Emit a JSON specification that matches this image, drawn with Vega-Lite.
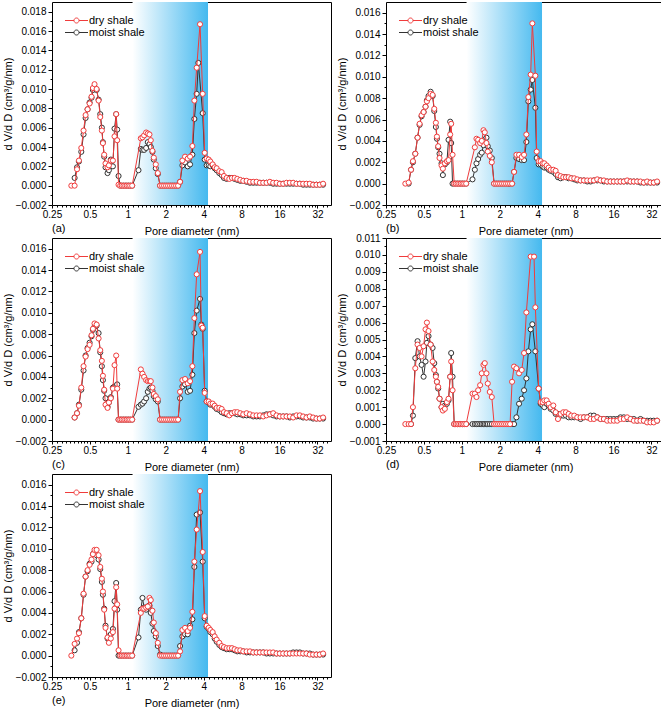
{
"$schema":"https://vega.github.io/schema/vega-lite/v6.json",
"padding":{"left":1,"top":1,"right":0,"bottom":0},
"background":"white",
"config":{"font":"Liberation Sans","view":{"stroke":"black","strokeWidth":1},"axis":{"domain":false,"grid":false,"tickColor":"black","labelColor":"black","titleColor":"black","labelFont":"Liberation Sans","titleFont":"Liberation Sans","labelFontSize":10,"titleFontSize":11,"titleFontWeight":"normal"},"legend":{"labelFont":"Liberation Sans","labelColor":"black"},"title":{"font":"Liberation Sans","fontSize":11,"fontWeight":"normal","color":"black"}},
"datasets":{
"a_dry":[{"d":0.356,"v":0},{"d":0.378,"v":0},{"d":0.395,"v":0.0017},{"d":0.409,"v":0.0026},{"d":0.427,"v":0.0039},{"d":0.445,"v":0.0057},{"d":0.462,"v":0.0073},{"d":0.479,"v":0.0079},{"d":0.497,"v":0.0085},{"d":0.515,"v":0.0092},{"d":0.528,"v":0.0101},{"d":0.544,"v":0.0105},{"d":0.565,"v":0.01},{"d":0.586,"v":0.0088},{"d":0.604,"v":0.0071},{"d":0.622,"v":0.0057},{"d":0.634,"v":0.0044},{"d":0.649,"v":0.0032},{"d":0.665,"v":0.0023},{"d":0.69,"v":0.0019},{"d":0.707,"v":0.0021},{"d":0.733,"v":0.0026},{"d":0.761,"v":0.0026},{"d":0.784,"v":0.0051},{"d":0.808,"v":0.0074},{"d":0.823,"v":0.0047},{"d":0.844,"v":0.0001},{"d":0.87,"v":0},{"d":0.896,"v":0},{"d":0.924,"v":0},{"d":0.953,"v":0},{"d":0.982,"v":0},{"d":1.012,"v":0},{"d":1.044,"v":0},{"d":1.082,"v":0},{"d":1.268,"v":0.0049},{"d":1.307,"v":0.005},{"d":1.347,"v":0.0052},{"d":1.397,"v":0.0055},{"d":1.44,"v":0.0054},{"d":1.485,"v":0.0053},{"d":1.521,"v":0.0047},{"d":1.568,"v":0.0036},{"d":1.607,"v":0.0029},{"d":1.667,"v":0.0022},{"d":1.729,"v":0.0013},{"d":1.804,"v":0},{"d":1.871,"v":0},{"d":1.94,"v":0},{"d":2.012,"v":0},{"d":2.087,"v":0},{"d":2.165,"v":0},{"d":2.245,"v":0},{"d":2.329,"v":0},{"d":2.415,"v":0},{"d":2.505,"v":0},{"d":2.598,"v":0.0004},{"d":2.711,"v":0.0026},{"d":2.846,"v":0.003},{"d":2.988,"v":0.0028},{"d":3.118,"v":0.003},{"d":3.253,"v":0.0041},{"d":3.374,"v":0.0088},{"d":3.52,"v":0.0122},{"d":3.742,"v":0.0167},{"d":3.928,"v":0.0095},{"d":4.074,"v":0.0034},{"d":4.225,"v":0.0028},{"d":4.382,"v":0.0027},{"d":4.517,"v":0.0025},{"d":4.713,"v":0.0022},{"d":4.889,"v":0.0019},{"d":5.071,"v":0.0018},{"d":5.323,"v":0.0015},{"d":5.555,"v":0.0014},{"d":5.796,"v":0.001},{"d":6.085,"v":0.0008},{"d":6.388,"v":0.0007},{"d":6.707,"v":0.0008},{"d":7.041,"v":0.0008},{"d":7.393,"v":0.0007},{"d":7.807,"v":0.0006},{"d":8.245,"v":0.0005},{"d":8.765,"v":0.0005},{"d":9.315,"v":0.0004},{"d":9.898,"v":0.0004},{"d":10.52,"v":0.0004},{"d":11.18,"v":0.0003},{"d":11.88,"v":0.0003},{"d":12.62,"v":0.0003},{"d":13.41,"v":0.0004},{"d":14.25,"v":0.0003},{"d":15.15,"v":0.0003},{"d":16.1,"v":0.0002},{"d":17.11,"v":0.0002},{"d":18.18,"v":0.0003},{"d":19.32,"v":0.0003},{"d":20.53,"v":0.0003},{"d":21.82,"v":0.0002},{"d":23.19,"v":0.0002},{"d":24.64,"v":0.0002},{"d":26.18,"v":0.0002},{"d":27.82,"v":0.0002},{"d":29.57,"v":0.0001},{"d":31.42,"v":0.0001},{"d":33.39,"v":0.0001},{"d":35.48,"v":0.0002}],
"a_moist":[{"d":0.378,"v":0.0008},{"d":0.395,"v":0.0019},{"d":0.409,"v":0.0025},{"d":0.427,"v":0.0035},{"d":0.445,"v":0.0053},{"d":0.462,"v":0.007},{"d":0.479,"v":0.0079},{"d":0.497,"v":0.0086},{"d":0.515,"v":0.0091},{"d":0.528,"v":0.0099},{"d":0.544,"v":0.0102},{"d":0.565,"v":0.0099},{"d":0.586,"v":0.0089},{"d":0.604,"v":0.0074},{"d":0.622,"v":0.006},{"d":0.634,"v":0.0045},{"d":0.649,"v":0.003},{"d":0.665,"v":0.0019},{"d":0.69,"v":0.0013},{"d":0.707,"v":0.0016},{"d":0.733,"v":0.0027},{"d":0.761,"v":0.002},{"d":0.784,"v":0.0059},{"d":0.808,"v":0.0074},{"d":0.823,"v":0.0058},{"d":0.844,"v":0.001},{"d":0.87,"v":0},{"d":0.896,"v":0},{"d":0.924,"v":0},{"d":0.953,"v":0},{"d":0.982,"v":0},{"d":1.012,"v":0},{"d":1.044,"v":0},{"d":1.082,"v":0},{"d":1.215,"v":0.0016},{"d":1.268,"v":0.0038},{"d":1.307,"v":0.0037},{"d":1.347,"v":0.0037},{"d":1.397,"v":0.0039},{"d":1.44,"v":0.0045},{"d":1.485,"v":0.0043},{"d":1.521,"v":0.004},{"d":1.568,"v":0.0035},{"d":1.607,"v":0.0027},{"d":1.667,"v":0.0018},{"d":1.729,"v":0.0012},{"d":1.804,"v":0},{"d":1.871,"v":0},{"d":1.94,"v":0},{"d":2.012,"v":0},{"d":2.087,"v":0},{"d":2.165,"v":0},{"d":2.245,"v":0},{"d":2.329,"v":0},{"d":2.415,"v":0},{"d":2.505,"v":0},{"d":2.598,"v":0.0004},{"d":2.711,"v":0.0021},{"d":2.846,"v":0.0024},{"d":2.988,"v":0.002},{"d":3.118,"v":0.0022},{"d":3.253,"v":0.0032},{"d":3.374,"v":0.0069},{"d":3.52,"v":0.0095},{"d":3.629,"v":0.0127},{"d":3.928,"v":0.0075},{"d":4.074,"v":0.0027},{"d":4.225,"v":0.0021},{"d":4.382,"v":0.0021},{"d":4.517,"v":0.002},{"d":4.713,"v":0.0021},{"d":4.889,"v":0.0018},{"d":5.071,"v":0.0016},{"d":5.323,"v":0.0013},{"d":5.555,"v":0.0011},{"d":5.796,"v":0.0008},{"d":6.085,"v":0.0007},{"d":6.388,"v":0.0008},{"d":6.707,"v":0.0008},{"d":7.041,"v":0.0007},{"d":7.393,"v":0.0006},{"d":7.807,"v":0.0005},{"d":8.245,"v":0.0005},{"d":8.765,"v":0.0004},{"d":9.315,"v":0.0003},{"d":9.898,"v":0.0003},{"d":10.52,"v":0.0003},{"d":11.18,"v":0.0003},{"d":11.88,"v":0.0003},{"d":12.62,"v":0.0003},{"d":13.41,"v":0.0003},{"d":14.25,"v":0.0002},{"d":15.15,"v":0.0002},{"d":16.1,"v":0.0002},{"d":17.11,"v":0.0002},{"d":18.18,"v":0.0002},{"d":19.32,"v":0.0002},{"d":20.53,"v":0.0002},{"d":21.82,"v":0.0002},{"d":23.19,"v":0.0002},{"d":24.64,"v":0.0001},{"d":26.18,"v":0.0001},{"d":27.82,"v":0.0001},{"d":29.57,"v":0.0001},{"d":31.42,"v":0.0001},{"d":33.39,"v":0.0001},{"d":35.48,"v":0.0001}],
"b_dry":[{"d":0.356,"v":0},{"d":0.378,"v":0.0001},{"d":0.395,"v":0.0013},{"d":0.409,"v":0.0021},{"d":0.427,"v":0.0028},{"d":0.445,"v":0.0043},{"d":0.462,"v":0.0056},{"d":0.479,"v":0.0064},{"d":0.497,"v":0.0067},{"d":0.515,"v":0.0072},{"d":0.528,"v":0.0077},{"d":0.544,"v":0.008},{"d":0.565,"v":0.0084},{"d":0.586,"v":0.0083},{"d":0.604,"v":0.007},{"d":0.622,"v":0.0057},{"d":0.634,"v":0.0044},{"d":0.649,"v":0.0035},{"d":0.665,"v":0.0024},{"d":0.69,"v":0.0017},{"d":0.707,"v":0.0014},{"d":0.733,"v":0.0019},{"d":0.761,"v":0.0021},{"d":0.784,"v":0.0022},{"d":0.808,"v":0.0046},{"d":0.823,"v":0.0056},{"d":0.844,"v":0.0027},{"d":0.87,"v":0},{"d":0.896,"v":0},{"d":0.924,"v":0},{"d":0.953,"v":0},{"d":0.982,"v":0},{"d":1.012,"v":0},{"d":1.044,"v":0},{"d":1.082,"v":0},{"d":1.268,"v":0.0034},{"d":1.307,"v":0.0042},{"d":1.347,"v":0.0041},{"d":1.397,"v":0.0038},{"d":1.44,"v":0.004},{"d":1.485,"v":0.005},{"d":1.521,"v":0.0048},{"d":1.568,"v":0.0038},{"d":1.607,"v":0.003},{"d":1.667,"v":0.0026},{"d":1.729,"v":0.002},{"d":1.804,"v":0},{"d":1.871,"v":0},{"d":1.94,"v":0},{"d":2.012,"v":0},{"d":2.087,"v":0},{"d":2.165,"v":0},{"d":2.245,"v":0},{"d":2.329,"v":0},{"d":2.415,"v":0},{"d":2.505,"v":0},{"d":2.598,"v":0.0011},{"d":2.711,"v":0.0027},{"d":2.846,"v":0.0027},{"d":2.988,"v":0.0025},{"d":3.118,"v":0.0027},{"d":3.253,"v":0.0046},{"d":3.374,"v":0.0081},{"d":3.52,"v":0.0102},{"d":3.629,"v":0.015},{"d":3.834,"v":0.0101},{"d":3.928,"v":0.003},{"d":4.074,"v":0.0021},{"d":4.225,"v":0.0021},{"d":4.382,"v":0.0019},{"d":4.517,"v":0.0019},{"d":4.713,"v":0.0017},{"d":4.889,"v":0.0015},{"d":5.071,"v":0.0013},{"d":5.323,"v":0.0013},{"d":5.555,"v":0.0012},{"d":5.796,"v":0.0008},{"d":6.085,"v":0.0007},{"d":6.388,"v":0.0006},{"d":6.707,"v":0.0006},{"d":7.041,"v":0.0006},{"d":7.393,"v":0.0005},{"d":7.807,"v":0.0005},{"d":8.245,"v":0.0004},{"d":8.765,"v":0.0003},{"d":9.315,"v":0.0003},{"d":9.898,"v":0.0003},{"d":10.52,"v":0.0003},{"d":11.18,"v":0.0003},{"d":11.88,"v":0.0004},{"d":12.62,"v":0.0003},{"d":13.41,"v":0.0003},{"d":14.25,"v":0.0002},{"d":15.15,"v":0.0002},{"d":16.1,"v":0.0002},{"d":17.11,"v":0.0002},{"d":18.18,"v":0.0002},{"d":19.32,"v":0.0002},{"d":20.53,"v":0.0003},{"d":21.82,"v":0.0002},{"d":23.19,"v":0.0002},{"d":24.64,"v":0.0002},{"d":26.18,"v":0.0002},{"d":27.82,"v":0.0001},{"d":29.57,"v":0.0002},{"d":31.42,"v":0.0001},{"d":33.39,"v":0.0001},{"d":35.48,"v":0.0002}],
"b_moist":[{"d":0.378,"v":0},{"d":0.395,"v":0.0013},{"d":0.409,"v":0.002},{"d":0.427,"v":0.0028},{"d":0.445,"v":0.0043},{"d":0.462,"v":0.0055},{"d":0.479,"v":0.0063},{"d":0.497,"v":0.0067},{"d":0.515,"v":0.0072},{"d":0.528,"v":0.0078},{"d":0.544,"v":0.0082},{"d":0.565,"v":0.0086},{"d":0.586,"v":0.0082},{"d":0.604,"v":0.0068},{"d":0.622,"v":0.0053},{"d":0.634,"v":0.0042},{"d":0.649,"v":0.0034},{"d":0.665,"v":0.0028},{"d":0.69,"v":0.0019},{"d":0.707,"v":0.0008},{"d":0.733,"v":0.0018},{"d":0.761,"v":0.002},{"d":0.784,"v":0.0041},{"d":0.808,"v":0.0058},{"d":0.823,"v":0.0038},{"d":0.844,"v":0},{"d":0.87,"v":0},{"d":0.896,"v":0},{"d":0.924,"v":0},{"d":0.953,"v":0},{"d":0.982,"v":0},{"d":1.012,"v":0},{"d":1.044,"v":0},{"d":1.082,"v":0},{"d":1.215,"v":0.0004},{"d":1.268,"v":0.0013},{"d":1.307,"v":0.0019},{"d":1.347,"v":0.0023},{"d":1.397,"v":0.0027},{"d":1.44,"v":0.0029},{"d":1.485,"v":0.0036},{"d":1.521,"v":0.0041},{"d":1.568,"v":0.0043},{"d":1.607,"v":0.0035},{"d":1.667,"v":0.0031},{"d":1.729,"v":0.0024},{"d":1.804,"v":0},{"d":1.871,"v":0},{"d":1.94,"v":0},{"d":2.012,"v":0},{"d":2.087,"v":0},{"d":2.165,"v":0},{"d":2.245,"v":0},{"d":2.329,"v":0},{"d":2.415,"v":0},{"d":2.505,"v":0},{"d":2.598,"v":0.0011},{"d":2.711,"v":0.0024},{"d":2.846,"v":0.0023},{"d":2.988,"v":0.0022},{"d":3.118,"v":0.0022},{"d":3.253,"v":0.0039},{"d":3.374,"v":0.0077},{"d":3.52,"v":0.0088},{"d":3.629,"v":0.0097},{"d":3.834,"v":0.0071},{"d":3.928,"v":0.0024},{"d":4.074,"v":0.0018},{"d":4.225,"v":0.0018},{"d":4.382,"v":0.0016},{"d":4.517,"v":0.0015},{"d":4.713,"v":0.0015},{"d":4.889,"v":0.0013},{"d":5.071,"v":0.0012},{"d":5.323,"v":0.0011},{"d":5.555,"v":0.0009},{"d":5.796,"v":0.0006},{"d":6.085,"v":0.0005},{"d":6.388,"v":0.0006},{"d":6.707,"v":0.0006},{"d":7.041,"v":0.0005},{"d":7.393,"v":0.0005},{"d":7.807,"v":0.0004},{"d":8.245,"v":0.0003},{"d":8.765,"v":0.0003},{"d":9.315,"v":0.0003},{"d":9.898,"v":0.0002},{"d":10.52,"v":0.0002},{"d":11.18,"v":0.0003},{"d":11.88,"v":0.0003},{"d":12.62,"v":0.0003},{"d":13.41,"v":0.0002},{"d":14.25,"v":0.0002},{"d":15.15,"v":0.0002},{"d":16.1,"v":0.0002},{"d":17.11,"v":0.0002},{"d":18.18,"v":0.0002},{"d":19.32,"v":0.0002},{"d":20.53,"v":0.0002},{"d":21.82,"v":0.0002},{"d":23.19,"v":0.0002},{"d":24.64,"v":0.0002},{"d":26.18,"v":0.0001},{"d":27.82,"v":0.0001},{"d":29.57,"v":0.0001},{"d":31.42,"v":0.0001},{"d":33.39,"v":0.0001},{"d":35.48,"v":0.0001}],
"c_dry":[{"d":0.378,"v":0.0002},{"d":0.395,"v":0.0006},{"d":0.409,"v":0.0013},{"d":0.427,"v":0.003},{"d":0.445,"v":0.005},{"d":0.462,"v":0.0059},{"d":0.479,"v":0.0066},{"d":0.497,"v":0.007},{"d":0.515,"v":0.0079},{"d":0.528,"v":0.0085},{"d":0.544,"v":0.009},{"d":0.565,"v":0.0089},{"d":0.586,"v":0.0076},{"d":0.604,"v":0.0065},{"d":0.622,"v":0.0055},{"d":0.634,"v":0.0041},{"d":0.649,"v":0.0028},{"d":0.665,"v":0.0014},{"d":0.69,"v":0.0011},{"d":0.707,"v":0.0016},{"d":0.733,"v":0.002},{"d":0.761,"v":0.0029},{"d":0.784,"v":0.0051},{"d":0.808,"v":0.006},{"d":0.823,"v":0.0029},{"d":0.844,"v":0},{"d":0.87,"v":0},{"d":0.896,"v":0},{"d":0.924,"v":0},{"d":0.953,"v":0},{"d":0.982,"v":0},{"d":1.012,"v":0},{"d":1.044,"v":0},{"d":1.082,"v":0},{"d":1.268,"v":0.0047},{"d":1.307,"v":0.0043},{"d":1.347,"v":0.004},{"d":1.397,"v":0.0037},{"d":1.44,"v":0.0036},{"d":1.485,"v":0.0036},{"d":1.521,"v":0.0036},{"d":1.568,"v":0.003},{"d":1.607,"v":0.0024},{"d":1.667,"v":0.0022},{"d":1.729,"v":0.0019},{"d":1.804,"v":0},{"d":1.871,"v":0},{"d":1.94,"v":0},{"d":2.012,"v":0},{"d":2.087,"v":0},{"d":2.165,"v":0},{"d":2.245,"v":0},{"d":2.329,"v":0},{"d":2.415,"v":0},{"d":2.505,"v":0},{"d":2.598,"v":0.0026},{"d":2.711,"v":0.0037},{"d":2.846,"v":0.0038},{"d":2.988,"v":0.0034},{"d":3.118,"v":0.0036},{"d":3.253,"v":0.005},{"d":3.374,"v":0.0095},{"d":3.52,"v":0.0136},{"d":3.742,"v":0.0157},{"d":3.834,"v":0.0088},{"d":3.928,"v":0.0086},{"d":4.074,"v":0.0025},{"d":4.225,"v":0.0017},{"d":4.382,"v":0.0017},{"d":4.517,"v":0.0015},{"d":4.713,"v":0.0015},{"d":4.889,"v":0.0013},{"d":5.071,"v":0.0011},{"d":5.323,"v":0.0011},{"d":5.555,"v":0.001},{"d":5.796,"v":0.0007},{"d":6.085,"v":0.0006},{"d":6.388,"v":0.0004},{"d":6.707,"v":0.0006},{"d":7.041,"v":0.0007},{"d":7.393,"v":0.0007},{"d":7.807,"v":0.0006},{"d":8.245,"v":0.0005},{"d":8.765,"v":0.0006},{"d":9.315,"v":0.0005},{"d":9.898,"v":0.0004},{"d":10.52,"v":0.0004},{"d":11.18,"v":0.0004},{"d":11.88,"v":0.0003},{"d":12.62,"v":0.0004},{"d":13.41,"v":0.0005},{"d":14.25,"v":0.0006},{"d":15.15,"v":0.0004},{"d":16.1,"v":0.0003},{"d":17.11,"v":0.0003},{"d":18.18,"v":0.0003},{"d":19.32,"v":0.0003},{"d":20.53,"v":0.0002},{"d":21.82,"v":0.0004},{"d":23.19,"v":0.0004},{"d":24.64,"v":0.0003},{"d":26.18,"v":0.0002},{"d":27.82,"v":0.0003},{"d":29.57,"v":0.0002},{"d":31.42,"v":0.0001},{"d":33.39,"v":0.0001},{"d":35.48,"v":0.0002}],
"c_moist":[{"d":0.378,"v":0.0002},{"d":0.395,"v":0.0006},{"d":0.409,"v":0.0014},{"d":0.427,"v":0.0028},{"d":0.445,"v":0.0046},{"d":0.462,"v":0.006},{"d":0.479,"v":0.0067},{"d":0.497,"v":0.0072},{"d":0.515,"v":0.0078},{"d":0.528,"v":0.0084},{"d":0.544,"v":0.0087},{"d":0.565,"v":0.0088},{"d":0.586,"v":0.0081},{"d":0.604,"v":0.0063},{"d":0.622,"v":0.005},{"d":0.634,"v":0.0037},{"d":0.649,"v":0.0027},{"d":0.665,"v":0.002},{"d":0.69,"v":0.0012},{"d":0.707,"v":0.0016},{"d":0.733,"v":0.0021},{"d":0.761,"v":0.003},{"d":0.784,"v":0.0031},{"d":0.808,"v":0.0031},{"d":0.823,"v":0.0033},{"d":0.844,"v":0},{"d":0.87,"v":0},{"d":0.896,"v":0},{"d":0.924,"v":0},{"d":0.953,"v":0},{"d":0.982,"v":0},{"d":1.012,"v":0},{"d":1.044,"v":0},{"d":1.082,"v":0},{"d":1.215,"v":0.0012},{"d":1.268,"v":0.0014},{"d":1.307,"v":0.0015},{"d":1.347,"v":0.0017},{"d":1.397,"v":0.002},{"d":1.44,"v":0.0026},{"d":1.485,"v":0.0029},{"d":1.521,"v":0.003},{"d":1.568,"v":0.0027},{"d":1.607,"v":0.0022},{"d":1.667,"v":0.0019},{"d":1.729,"v":0.0017},{"d":1.804,"v":0},{"d":1.871,"v":0},{"d":1.94,"v":0},{"d":2.012,"v":0},{"d":2.087,"v":0},{"d":2.165,"v":0},{"d":2.245,"v":0},{"d":2.329,"v":0},{"d":2.415,"v":0},{"d":2.505,"v":0},{"d":2.598,"v":0.002},{"d":2.711,"v":0.0031},{"d":2.846,"v":0.0033},{"d":2.988,"v":0.0026},{"d":3.118,"v":0.0027},{"d":3.253,"v":0.0042},{"d":3.374,"v":0.0081},{"d":3.52,"v":0.0102},{"d":3.742,"v":0.0113},{"d":3.834,"v":0.0089},{"d":3.928,"v":0.0085},{"d":4.074,"v":0.0027},{"d":4.225,"v":0.0017},{"d":4.382,"v":0.0016},{"d":4.517,"v":0.0014},{"d":4.713,"v":0.0014},{"d":4.889,"v":0.0012},{"d":5.071,"v":0.001},{"d":5.323,"v":0.0009},{"d":5.555,"v":0.0007},{"d":5.796,"v":0.0006},{"d":6.085,"v":0.0005},{"d":6.388,"v":0.0006},{"d":6.707,"v":0.0006},{"d":7.041,"v":0.0006},{"d":7.393,"v":0.0005},{"d":7.807,"v":0.0005},{"d":8.245,"v":0.0004},{"d":8.765,"v":0.0004},{"d":9.315,"v":0.0004},{"d":9.898,"v":0.0003},{"d":10.52,"v":0.0003},{"d":11.18,"v":0.0003},{"d":11.88,"v":0.0004},{"d":12.62,"v":0.0005},{"d":13.41,"v":0.0005},{"d":14.25,"v":0.0004},{"d":15.15,"v":0.0003},{"d":16.1,"v":0.0003},{"d":17.11,"v":0.0003},{"d":18.18,"v":0.0003},{"d":19.32,"v":0.0002},{"d":20.53,"v":0.0003},{"d":21.82,"v":0.0003},{"d":23.19,"v":0.0003},{"d":24.64,"v":0.0002},{"d":26.18,"v":0.0002},{"d":27.82,"v":0.0002},{"d":29.57,"v":0.0001},{"d":31.42,"v":0.0001},{"d":33.39,"v":0.0001},{"d":35.48,"v":0.0001}],
"d_dry":[{"d":0.356,"v":0},{"d":0.378,"v":0},{"d":0.395,"v":0},{"d":0.409,"v":0.001},{"d":0.427,"v":0.0033},{"d":0.445,"v":0.0047},{"d":0.462,"v":0.0045},{"d":0.479,"v":0.004},{"d":0.497,"v":0.0046},{"d":0.515,"v":0.0056},{"d":0.528,"v":0.006},{"d":0.544,"v":0.0055},{"d":0.565,"v":0.0047},{"d":0.586,"v":0.0037},{"d":0.604,"v":0.0032},{"d":0.622,"v":0.0028},{"d":0.634,"v":0.0025},{"d":0.649,"v":0.0022},{"d":0.665,"v":0.0015},{"d":0.69,"v":0.001},{"d":0.707,"v":0.0008},{"d":0.733,"v":0.0009},{"d":0.761,"v":0.0013},{"d":0.784,"v":0.0015},{"d":0.808,"v":0.0028},{"d":0.823,"v":0.0037},{"d":0.844,"v":0.002},{"d":0.87,"v":0},{"d":0.896,"v":0},{"d":0.924,"v":0},{"d":0.953,"v":0},{"d":0.982,"v":0},{"d":1.012,"v":0},{"d":1.044,"v":0},{"d":1.082,"v":0},{"d":1.215,"v":0.0018},{"d":1.268,"v":0.0018},{"d":1.307,"v":0.0016},{"d":1.347,"v":0.002},{"d":1.397,"v":0.0023},{"d":1.44,"v":0.003},{"d":1.485,"v":0.0035},{"d":1.521,"v":0.0036},{"d":1.568,"v":0.003},{"d":1.607,"v":0.0024},{"d":1.667,"v":0.0019},{"d":1.729,"v":0.0016},{"d":1.804,"v":0},{"d":1.871,"v":0},{"d":1.94,"v":0},{"d":2.012,"v":0},{"d":2.087,"v":0},{"d":2.165,"v":0},{"d":2.245,"v":0},{"d":2.329,"v":0},{"d":2.415,"v":0},{"d":2.505,"v":0.0025},{"d":2.598,"v":0.0034},{"d":2.711,"v":0.0033},{"d":2.846,"v":0.003},{"d":2.988,"v":0.0032},{"d":3.118,"v":0.0042},{"d":3.253,"v":0.0066},{"d":3.52,"v":0.0099},{"d":3.742,"v":0.0099},{"d":3.834,"v":0.0069},{"d":4.074,"v":0.0021},{"d":4.225,"v":0.0013},{"d":4.382,"v":0.0013},{"d":4.517,"v":0.0014},{"d":4.713,"v":0.0014},{"d":4.889,"v":0.0012},{"d":5.071,"v":0.001},{"d":5.323,"v":0.0011},{"d":5.555,"v":0.0007},{"d":5.796,"v":0.0003},{"d":6.085,"v":0.0006},{"d":6.388,"v":0.0007},{"d":6.707,"v":0.0007},{"d":7.041,"v":0.0006},{"d":7.393,"v":0.0005},{"d":7.807,"v":0.0005},{"d":8.245,"v":0.0004},{"d":8.765,"v":0.0004},{"d":9.315,"v":0.0004},{"d":9.898,"v":0.0004},{"d":10.52,"v":0.0003},{"d":11.18,"v":0.0003},{"d":11.88,"v":0.0004},{"d":12.62,"v":0.0003},{"d":13.41,"v":0.0003},{"d":14.25,"v":0.0002},{"d":15.15,"v":0.0002},{"d":16.1,"v":0.0002},{"d":17.11,"v":0.0002},{"d":18.18,"v":0.0003},{"d":19.32,"v":0.0003},{"d":20.53,"v":0.0004},{"d":21.82,"v":0.0003},{"d":23.19,"v":0.0002},{"d":24.64,"v":0.0002},{"d":26.18,"v":0.0002},{"d":27.82,"v":0.0002},{"d":29.57,"v":0.0001},{"d":31.42,"v":0.0001},{"d":33.39,"v":0.0001},{"d":35.48,"v":0.0002}],
"d_moist":[{"d":0.395,"v":0},{"d":0.409,"v":0.0005},{"d":0.427,"v":0.0039},{"d":0.445,"v":0.0049},{"d":0.462,"v":0.004},{"d":0.479,"v":0.0035},{"d":0.497,"v":0.0028},{"d":0.515,"v":0.0037},{"d":0.528,"v":0.0048},{"d":0.544,"v":0.0052},{"d":0.565,"v":0.0047},{"d":0.586,"v":0.0045},{"d":0.604,"v":0.0036},{"d":0.622,"v":0.0029},{"d":0.634,"v":0.0025},{"d":0.649,"v":0.0021},{"d":0.665,"v":0.0015},{"d":0.69,"v":0.001},{"d":0.707,"v":0.0012},{"d":0.733,"v":0.0011},{"d":0.761,"v":0.0012},{"d":0.784,"v":0.0014},{"d":0.808,"v":0.0028},{"d":0.823,"v":0.0042},{"d":0.844,"v":0.0028},{"d":0.87,"v":0},{"d":0.896,"v":0},{"d":0.924,"v":0},{"d":0.953,"v":0},{"d":0.982,"v":0},{"d":1.012,"v":0},{"d":1.044,"v":0},{"d":1.082,"v":0},{"d":1.215,"v":0},{"d":1.268,"v":0},{"d":1.307,"v":0},{"d":1.347,"v":0},{"d":1.397,"v":0},{"d":1.44,"v":0},{"d":1.485,"v":0},{"d":1.521,"v":0},{"d":1.568,"v":0},{"d":1.607,"v":0},{"d":1.667,"v":0},{"d":1.729,"v":0},{"d":1.804,"v":0},{"d":1.871,"v":0},{"d":1.94,"v":0},{"d":2.012,"v":0},{"d":2.087,"v":0},{"d":2.165,"v":0},{"d":2.245,"v":0},{"d":2.329,"v":0},{"d":2.415,"v":0},{"d":2.505,"v":0},{"d":2.598,"v":0},{"d":2.711,"v":0.0004},{"d":2.846,"v":0.0012},{"d":2.988,"v":0.0015},{"d":3.118,"v":0.002},{"d":3.253,"v":0.0027},{"d":3.374,"v":0.0043},{"d":3.52,"v":0.0056},{"d":3.629,"v":0.0059},{"d":3.834,"v":0.0043},{"d":4.074,"v":0.0021},{"d":4.225,"v":0.0012},{"d":4.382,"v":0.0011},{"d":4.517,"v":0.001},{"d":4.713,"v":0.0012},{"d":4.889,"v":0.0011},{"d":5.071,"v":0.0009},{"d":5.323,"v":0.0008},{"d":5.555,"v":0.0006},{"d":5.796,"v":0.0006},{"d":6.085,"v":0.0005},{"d":6.388,"v":0.0005},{"d":6.707,"v":0.0005},{"d":7.041,"v":0.0004},{"d":7.393,"v":0.0004},{"d":7.807,"v":0.0004},{"d":8.245,"v":0.0004},{"d":8.765,"v":0.0003},{"d":9.315,"v":0.0004},{"d":9.898,"v":0.0004},{"d":10.52,"v":0.0005},{"d":11.18,"v":0.0005},{"d":11.88,"v":0.0004},{"d":12.62,"v":0.0003},{"d":13.41,"v":0.0003},{"d":14.25,"v":0.0003},{"d":15.15,"v":0.0003},{"d":16.1,"v":0.0003},{"d":17.11,"v":0.0003},{"d":18.18,"v":0.0004},{"d":19.32,"v":0.0004},{"d":20.53,"v":0.0003},{"d":21.82,"v":0.0003},{"d":23.19,"v":0.0003},{"d":24.64,"v":0.0002},{"d":26.18,"v":0.0003},{"d":27.82,"v":0.0002},{"d":29.57,"v":0.0002},{"d":31.42,"v":0.0002},{"d":33.39,"v":0.0002},{"d":35.48,"v":0.0002}],
"e_dry":[{"d":0.356,"v":0},{"d":0.378,"v":0.0011},{"d":0.395,"v":0.0016},{"d":0.409,"v":0.0021},{"d":0.427,"v":0.0035},{"d":0.445,"v":0.0058},{"d":0.462,"v":0.0074},{"d":0.479,"v":0.008},{"d":0.497,"v":0.0085},{"d":0.515,"v":0.009},{"d":0.528,"v":0.0095},{"d":0.544,"v":0.0099},{"d":0.565,"v":0.0099},{"d":0.586,"v":0.0094},{"d":0.604,"v":0.0083},{"d":0.622,"v":0.0072},{"d":0.634,"v":0.006},{"d":0.649,"v":0.0043},{"d":0.665,"v":0.0026},{"d":0.69,"v":0.0017},{"d":0.707,"v":0.0012},{"d":0.733,"v":0.0016},{"d":0.761,"v":0.0022},{"d":0.784,"v":0.0044},{"d":0.808,"v":0.0064},{"d":0.823,"v":0.0048},{"d":0.844,"v":0.0005},{"d":0.87,"v":0},{"d":0.896,"v":0},{"d":0.924,"v":0},{"d":0.953,"v":0},{"d":0.982,"v":0},{"d":1.012,"v":0},{"d":1.044,"v":0},{"d":1.082,"v":0},{"d":1.268,"v":0.004},{"d":1.307,"v":0.0044},{"d":1.347,"v":0.0044},{"d":1.397,"v":0.0045},{"d":1.44,"v":0.0046},{"d":1.485,"v":0.0054},{"d":1.521,"v":0.0052},{"d":1.568,"v":0.0042},{"d":1.607,"v":0.0031},{"d":1.667,"v":0.0021},{"d":1.729,"v":0.0012},{"d":1.804,"v":0},{"d":1.871,"v":0},{"d":1.94,"v":0},{"d":2.012,"v":0},{"d":2.087,"v":0},{"d":2.165,"v":0},{"d":2.245,"v":0},{"d":2.329,"v":0},{"d":2.415,"v":0},{"d":2.505,"v":0},{"d":2.598,"v":0.0004},{"d":2.711,"v":0.0024},{"d":2.846,"v":0.0026},{"d":2.988,"v":0.0023},{"d":3.118,"v":0.0026},{"d":3.253,"v":0.0041},{"d":3.374,"v":0.0088},{"d":3.52,"v":0.0118},{"d":3.742,"v":0.0154},{"d":3.928,"v":0.0097},{"d":4.074,"v":0.0037},{"d":4.225,"v":0.0028},{"d":4.382,"v":0.0026},{"d":4.517,"v":0.0024},{"d":4.713,"v":0.0022},{"d":4.889,"v":0.0018},{"d":5.071,"v":0.0015},{"d":5.323,"v":0.0012},{"d":5.555,"v":0.0009},{"d":5.796,"v":0.0008},{"d":6.085,"v":0.0007},{"d":6.388,"v":0.0007},{"d":6.707,"v":0.0007},{"d":7.041,"v":0.0006},{"d":7.393,"v":0.0005},{"d":7.807,"v":0.0005},{"d":8.245,"v":0.0004},{"d":8.765,"v":0.0004},{"d":9.315,"v":0.0004},{"d":9.898,"v":0.0003},{"d":10.52,"v":0.0003},{"d":11.18,"v":0.0003},{"d":11.88,"v":0.0003},{"d":12.62,"v":0.0003},{"d":13.41,"v":0.0003},{"d":14.25,"v":0.0003},{"d":15.15,"v":0.0002},{"d":16.1,"v":0.0002},{"d":17.11,"v":0.0002},{"d":18.18,"v":0.0002},{"d":19.32,"v":0.0002},{"d":20.53,"v":0.0002},{"d":21.82,"v":0.0002},{"d":23.19,"v":0.0002},{"d":24.64,"v":0.0002},{"d":26.18,"v":0.0002},{"d":27.82,"v":0.0001},{"d":29.57,"v":0.0001},{"d":31.42,"v":0.0001},{"d":33.39,"v":0.0001},{"d":35.48,"v":0.0002}],
"e_moist":[{"d":0.378,"v":0.0005},{"d":0.395,"v":0.0012},{"d":0.409,"v":0.0022},{"d":0.427,"v":0.0035},{"d":0.445,"v":0.0057},{"d":0.462,"v":0.0074},{"d":0.479,"v":0.0079},{"d":0.497,"v":0.0086},{"d":0.515,"v":0.0088},{"d":0.528,"v":0.0095},{"d":0.544,"v":0.0097},{"d":0.565,"v":0.0094},{"d":0.586,"v":0.009},{"d":0.604,"v":0.0081},{"d":0.622,"v":0.0069},{"d":0.634,"v":0.0057},{"d":0.649,"v":0.0044},{"d":0.665,"v":0.0028},{"d":0.69,"v":0.0016},{"d":0.707,"v":0.0016},{"d":0.733,"v":0.002},{"d":0.761,"v":0.0025},{"d":0.784,"v":0.0051},{"d":0.808,"v":0.0068},{"d":0.823,"v":0.0043},{"d":0.844,"v":0},{"d":0.87,"v":0},{"d":0.896,"v":0},{"d":0.924,"v":0},{"d":0.953,"v":0},{"d":0.982,"v":0},{"d":1.012,"v":0},{"d":1.044,"v":0},{"d":1.082,"v":0},{"d":1.215,"v":0.0017},{"d":1.268,"v":0.0043},{"d":1.307,"v":0.0054},{"d":1.347,"v":0.0045},{"d":1.397,"v":0.0043},{"d":1.44,"v":0.0046},{"d":1.485,"v":0.0047},{"d":1.521,"v":0.004},{"d":1.568,"v":0.003},{"d":1.607,"v":0.0023},{"d":1.667,"v":0.0018},{"d":1.729,"v":0.0009},{"d":1.804,"v":0.0001},{"d":1.871,"v":0},{"d":1.94,"v":0},{"d":2.012,"v":0},{"d":2.087,"v":0},{"d":2.165,"v":0},{"d":2.245,"v":0},{"d":2.329,"v":0},{"d":2.415,"v":0},{"d":2.505,"v":0},{"d":2.598,"v":0.0009},{"d":2.711,"v":0.0018},{"d":2.846,"v":0.002},{"d":2.988,"v":0.002},{"d":3.118,"v":0.0028},{"d":3.253,"v":0.0034},{"d":3.374,"v":0.0083},{"d":3.52,"v":0.0132},{"d":3.742,"v":0.0134},{"d":3.928,"v":0.0088},{"d":4.074,"v":0.0035},{"d":4.225,"v":0.0027},{"d":4.382,"v":0.0025},{"d":4.517,"v":0.0022},{"d":4.713,"v":0.002},{"d":4.889,"v":0.0016},{"d":5.071,"v":0.0013},{"d":5.323,"v":0.001},{"d":5.555,"v":0.0008},{"d":5.796,"v":0.0007},{"d":6.085,"v":0.0006},{"d":6.388,"v":0.0006},{"d":6.707,"v":0.0006},{"d":7.041,"v":0.0005},{"d":7.393,"v":0.0004},{"d":7.807,"v":0.0004},{"d":8.245,"v":0.0004},{"d":8.765,"v":0.0003},{"d":9.315,"v":0.0003},{"d":9.898,"v":0.0003},{"d":10.52,"v":0.0003},{"d":11.18,"v":0.0003},{"d":11.88,"v":0.0003},{"d":12.62,"v":0.0002},{"d":13.41,"v":0.0002},{"d":14.25,"v":0.0002},{"d":15.15,"v":0.0002},{"d":16.1,"v":0.0002},{"d":17.11,"v":0.0002},{"d":18.18,"v":0.0002},{"d":19.32,"v":0.0002},{"d":20.53,"v":0.0003},{"d":21.82,"v":0.0003},{"d":23.19,"v":0.0003},{"d":24.64,"v":0.0002},{"d":26.18,"v":0.0002},{"d":27.82,"v":0.0002},{"d":29.57,"v":0.0001},{"d":31.42,"v":0.0001},{"d":33.39,"v":0.0001},{"d":35.48,"v":0.0001}]
},
"columns":2,
"bounds":"flush",
"spacing":{"row":33,"column":55},
"resolve":{"scale":{"stroke":"independent"}},
"concat":[
{"width":279,"height":203,"view":{"stroke":"black","strokeWidth":1},"title":{"text":"(a)","orient":"bottom","anchor":"start","frame":"group","offset":-13},"resolve":{"axis":{"x":"independent","y":"independent"}},
"layer":[
{"data":{"values":[{"lo":1.09,"hi":4.33}]},"mark":{"type":"rect","fill":{"gradient":"linear","x1":0,"x2":1,"y1":0,"y2":0,"stops":[{"offset":0,"color":"#ffffff"},{"offset":1,"color":"#45b9ef"}]}},"encoding":{"x":{"field":"lo","type":"quantitative","scale":{"type":"log","base":2,"domain":[0.25,41],"nice":false},"axis":{"values":[0.25,0.5,1,2,4,8,16,32],"format":"~g","title":"Pore diameter (nm)","tickSize":3,"labelPadding":1,"titlePadding":6,"labelFlush":false,"labelOverlap":false}},"x2":{"field":"hi"}}},
{"data":{"name":"a_moist"},"mark":{"type":"line","strokeWidth":1,"point":{"filled":false,"fill":"white","size":26,"strokeWidth":1}},"encoding":{"x":{"field":"d","type":"quantitative","axis":{"orient":"bottom","values":[0.275,0.3,0.325,0.35,0.375,0.4,0.425,0.45,0.475,0.55,0.6,0.65,0.7,0.75,0.8,0.85,0.9,0.95,1.1,1.2,1.3,1.4,1.5,1.6,1.7,1.8,1.9,2.2,2.4,2.6,2.8,3,3.2,3.4,3.6,3.8,4.4,4.8,5.2,5.6,6,6.4,6.8,7.2,7.6,8.8,9.6,10.4,11.2,12,12.8,13.6,14.4,15.2,17.6,19.2,20.8,22.4,24,25.6,27.2,28.8,30.4,35.2,38.4],"labels":false,"title":null,"tickSize":2}},"y":{"field":"v","type":"quantitative","scale":{"domain":[-0.002,0.019],"nice":false,"zero":false},"axis":{"values":[-0.002,0,0.002,0.004,0.006,0.008,0.01,0.012,0.014,0.016,0.018],"format":".3f","title":"d V/d D (cm³/g/nm)","tickSize":4,"labelPadding":2,"titlePadding":2}},"stroke":{"datum":"moist shale","type":"nominal","scale":{"domain":["dry shale","moist shale"],"range":["#f03c3c","#333333"]},"legend":{"orient":"none","legendX":19,"legendY":13,"title":null,"symbolType":"M-2.3,0H-0.5M0.5,0H2.3M0.5,0A0.5,0.5,0,1,1,-0.5,0A0.5,0.5,0,1,1,0.5,0","symbolSize":100,"symbolFillColor":"white","symbolStrokeWidth":1,"labelFontSize":11,"labelOffset":7,"rowPadding":0,"padding":0}}}},
{"data":{"name":"a_dry"},"mark":{"type":"line","strokeWidth":1,"point":{"filled":false,"fill":"white","size":26,"strokeWidth":1}},"encoding":{"x":{"field":"d","type":"quantitative","axis":null},"y":{"field":"v","type":"quantitative","axis":{"orient":"left","values":[-0.001,0.001,0.003,0.005,0.007,0.009,0.011,0.013,0.015,0.017],"labels":false,"title":null,"tickSize":2}},"stroke":{"datum":"dry shale","type":"nominal"}}}
]},
{"width":279,"height":203,"view":{"stroke":"black","strokeWidth":1},"title":{"text":"(b)","orient":"bottom","anchor":"start","frame":"group","offset":-13},"resolve":{"axis":{"x":"independent","y":"independent"}},
"layer":[
{"data":{"values":[{"lo":1.09,"hi":4.33}]},"mark":{"type":"rect","fill":{"gradient":"linear","x1":0,"x2":1,"y1":0,"y2":0,"stops":[{"offset":0,"color":"#ffffff"},{"offset":1,"color":"#45b9ef"}]}},"encoding":{"x":{"field":"lo","type":"quantitative","scale":{"type":"log","base":2,"domain":[0.25,41],"nice":false},"axis":{"values":[0.25,0.5,1,2,4,8,16,32],"format":"~g","title":"Pore diameter (nm)","tickSize":3,"labelPadding":1,"titlePadding":6,"labelFlush":false,"labelOverlap":false}},"x2":{"field":"hi"}}},
{"data":{"name":"b_moist"},"mark":{"type":"line","strokeWidth":1,"point":{"filled":false,"fill":"white","size":26,"strokeWidth":1}},"encoding":{"x":{"field":"d","type":"quantitative","axis":{"orient":"bottom","values":[0.275,0.3,0.325,0.35,0.375,0.4,0.425,0.45,0.475,0.55,0.6,0.65,0.7,0.75,0.8,0.85,0.9,0.95,1.1,1.2,1.3,1.4,1.5,1.6,1.7,1.8,1.9,2.2,2.4,2.6,2.8,3,3.2,3.4,3.6,3.8,4.4,4.8,5.2,5.6,6,6.4,6.8,7.2,7.6,8.8,9.6,10.4,11.2,12,12.8,13.6,14.4,15.2,17.6,19.2,20.8,22.4,24,25.6,27.2,28.8,30.4,35.2,38.4],"labels":false,"title":null,"tickSize":2}},"y":{"field":"v","type":"quantitative","scale":{"domain":[-0.002,0.017],"nice":false,"zero":false},"axis":{"values":[-0.002,0,0.002,0.004,0.006,0.008,0.01,0.012,0.014,0.016],"format":".3f","title":"d V/d D (cm³/g/nm)","tickSize":4,"labelPadding":2,"titlePadding":2}},"stroke":{"datum":"moist shale","type":"nominal","scale":{"domain":["dry shale","moist shale"],"range":["#f03c3c","#333333"]},"legend":{"orient":"none","legendX":19,"legendY":13,"title":null,"symbolType":"M-2.3,0H-0.5M0.5,0H2.3M0.5,0A0.5,0.5,0,1,1,-0.5,0A0.5,0.5,0,1,1,0.5,0","symbolSize":100,"symbolFillColor":"white","symbolStrokeWidth":1,"labelFontSize":11,"labelOffset":7,"rowPadding":0,"padding":0}}}},
{"data":{"name":"b_dry"},"mark":{"type":"line","strokeWidth":1,"point":{"filled":false,"fill":"white","size":26,"strokeWidth":1}},"encoding":{"x":{"field":"d","type":"quantitative","axis":null},"y":{"field":"v","type":"quantitative","axis":{"orient":"left","values":[-0.001,0.001,0.003,0.005,0.007,0.009,0.011,0.013,0.015],"labels":false,"title":null,"tickSize":2}},"stroke":{"datum":"dry shale","type":"nominal"}}}
]},
{"width":279,"height":203,"view":{"stroke":"black","strokeWidth":1},"title":{"text":"(c)","orient":"bottom","anchor":"start","frame":"group","offset":-13},"resolve":{"axis":{"x":"independent","y":"independent"}},
"layer":[
{"data":{"values":[{"lo":1.09,"hi":4.33}]},"mark":{"type":"rect","fill":{"gradient":"linear","x1":0,"x2":1,"y1":0,"y2":0,"stops":[{"offset":0,"color":"#ffffff"},{"offset":1,"color":"#45b9ef"}]}},"encoding":{"x":{"field":"lo","type":"quantitative","scale":{"type":"log","base":2,"domain":[0.25,41],"nice":false},"axis":{"values":[0.25,0.5,1,2,4,8,16,32],"format":"~g","title":"Pore diameter (nm)","tickSize":3,"labelPadding":1,"titlePadding":6,"labelFlush":false,"labelOverlap":false}},"x2":{"field":"hi"}}},
{"data":{"name":"c_moist"},"mark":{"type":"line","strokeWidth":1,"point":{"filled":false,"fill":"white","size":26,"strokeWidth":1}},"encoding":{"x":{"field":"d","type":"quantitative","axis":{"orient":"bottom","values":[0.275,0.3,0.325,0.35,0.375,0.4,0.425,0.45,0.475,0.55,0.6,0.65,0.7,0.75,0.8,0.85,0.9,0.95,1.1,1.2,1.3,1.4,1.5,1.6,1.7,1.8,1.9,2.2,2.4,2.6,2.8,3,3.2,3.4,3.6,3.8,4.4,4.8,5.2,5.6,6,6.4,6.8,7.2,7.6,8.8,9.6,10.4,11.2,12,12.8,13.6,14.4,15.2,17.6,19.2,20.8,22.4,24,25.6,27.2,28.8,30.4,35.2,38.4],"labels":false,"title":null,"tickSize":2}},"y":{"field":"v","type":"quantitative","scale":{"domain":[-0.002,0.017],"nice":false,"zero":false},"axis":{"values":[-0.002,0,0.002,0.004,0.006,0.008,0.01,0.012,0.014,0.016],"format":".3f","title":"d V/d D (cm³/g/nm)","tickSize":4,"labelPadding":2,"titlePadding":2}},"stroke":{"datum":"moist shale","type":"nominal","scale":{"domain":["dry shale","moist shale"],"range":["#f03c3c","#333333"]},"legend":{"orient":"none","legendX":19,"legendY":13,"title":null,"symbolType":"M-2.3,0H-0.5M0.5,0H2.3M0.5,0A0.5,0.5,0,1,1,-0.5,0A0.5,0.5,0,1,1,0.5,0","symbolSize":100,"symbolFillColor":"white","symbolStrokeWidth":1,"labelFontSize":11,"labelOffset":7,"rowPadding":0,"padding":0}}}},
{"data":{"name":"c_dry"},"mark":{"type":"line","strokeWidth":1,"point":{"filled":false,"fill":"white","size":26,"strokeWidth":1}},"encoding":{"x":{"field":"d","type":"quantitative","axis":null},"y":{"field":"v","type":"quantitative","axis":{"orient":"left","values":[-0.001,0.001,0.003,0.005,0.007,0.009,0.011,0.013,0.015],"labels":false,"title":null,"tickSize":2}},"stroke":{"datum":"dry shale","type":"nominal"}}}
]},
{"width":279,"height":203,"view":{"stroke":"black","strokeWidth":1},"title":{"text":"(d)","orient":"bottom","anchor":"start","frame":"group","offset":-13},"resolve":{"axis":{"x":"independent","y":"independent"}},
"layer":[
{"data":{"values":[{"lo":1.09,"hi":4.33}]},"mark":{"type":"rect","fill":{"gradient":"linear","x1":0,"x2":1,"y1":0,"y2":0,"stops":[{"offset":0,"color":"#ffffff"},{"offset":1,"color":"#45b9ef"}]}},"encoding":{"x":{"field":"lo","type":"quantitative","scale":{"type":"log","base":2,"domain":[0.25,41],"nice":false},"axis":{"values":[0.25,0.5,1,2,4,8,16,32],"format":"~g","title":"Pore diameter (nm)","tickSize":3,"labelPadding":1,"titlePadding":6,"labelFlush":false,"labelOverlap":false}},"x2":{"field":"hi"}}},
{"data":{"name":"d_moist"},"mark":{"type":"line","strokeWidth":1,"point":{"filled":false,"fill":"white","size":26,"strokeWidth":1}},"encoding":{"x":{"field":"d","type":"quantitative","axis":{"orient":"bottom","values":[0.275,0.3,0.325,0.35,0.375,0.4,0.425,0.45,0.475,0.55,0.6,0.65,0.7,0.75,0.8,0.85,0.9,0.95,1.1,1.2,1.3,1.4,1.5,1.6,1.7,1.8,1.9,2.2,2.4,2.6,2.8,3,3.2,3.4,3.6,3.8,4.4,4.8,5.2,5.6,6,6.4,6.8,7.2,7.6,8.8,9.6,10.4,11.2,12,12.8,13.6,14.4,15.2,17.6,19.2,20.8,22.4,24,25.6,27.2,28.8,30.4,35.2,38.4],"labels":false,"title":null,"tickSize":2}},"y":{"field":"v","type":"quantitative","scale":{"domain":[-0.001,0.011],"nice":false,"zero":false},"axis":{"values":[-0.001,0,0.001,0.002,0.003,0.004,0.005,0.006,0.007,0.008,0.009,0.01,0.011],"format":".3f","title":"d V/d D (cm³/g/nm)","tickSize":4,"labelPadding":2,"titlePadding":2}},"stroke":{"datum":"moist shale","type":"nominal","scale":{"domain":["dry shale","moist shale"],"range":["#f03c3c","#333333"]},"legend":{"orient":"none","legendX":19,"legendY":13,"title":null,"symbolType":"M-2.3,0H-0.5M0.5,0H2.3M0.5,0A0.5,0.5,0,1,1,-0.5,0A0.5,0.5,0,1,1,0.5,0","symbolSize":100,"symbolFillColor":"white","symbolStrokeWidth":1,"labelFontSize":11,"labelOffset":7,"rowPadding":0,"padding":0}}}},
{"data":{"name":"d_dry"},"mark":{"type":"line","strokeWidth":1,"point":{"filled":false,"fill":"white","size":26,"strokeWidth":1}},"encoding":{"x":{"field":"d","type":"quantitative","axis":null},"y":{"field":"v","type":"quantitative","axis":{"orient":"left","values":[-0.0005,0.0005,0.0015,0.0025,0.0035,0.0045,0.0055,0.0065,0.0075,0.0085,0.0095,0.0105],"labels":false,"title":null,"tickSize":2}},"stroke":{"datum":"dry shale","type":"nominal"}}}
]},
{"width":279,"height":203,"view":{"stroke":"black","strokeWidth":1},"title":{"text":"(e)","orient":"bottom","anchor":"start","frame":"group","offset":-13},"resolve":{"axis":{"x":"independent","y":"independent"}},
"layer":[
{"data":{"values":[{"lo":1.09,"hi":4.33}]},"mark":{"type":"rect","fill":{"gradient":"linear","x1":0,"x2":1,"y1":0,"y2":0,"stops":[{"offset":0,"color":"#ffffff"},{"offset":1,"color":"#45b9ef"}]}},"encoding":{"x":{"field":"lo","type":"quantitative","scale":{"type":"log","base":2,"domain":[0.25,41],"nice":false},"axis":{"values":[0.25,0.5,1,2,4,8,16,32],"format":"~g","title":"Pore diameter (nm)","tickSize":3,"labelPadding":1,"titlePadding":6,"labelFlush":false,"labelOverlap":false}},"x2":{"field":"hi"}}},
{"data":{"name":"e_moist"},"mark":{"type":"line","strokeWidth":1,"point":{"filled":false,"fill":"white","size":26,"strokeWidth":1}},"encoding":{"x":{"field":"d","type":"quantitative","axis":{"orient":"bottom","values":[0.275,0.3,0.325,0.35,0.375,0.4,0.425,0.45,0.475,0.55,0.6,0.65,0.7,0.75,0.8,0.85,0.9,0.95,1.1,1.2,1.3,1.4,1.5,1.6,1.7,1.8,1.9,2.2,2.4,2.6,2.8,3,3.2,3.4,3.6,3.8,4.4,4.8,5.2,5.6,6,6.4,6.8,7.2,7.6,8.8,9.6,10.4,11.2,12,12.8,13.6,14.4,15.2,17.6,19.2,20.8,22.4,24,25.6,27.2,28.8,30.4,35.2,38.4],"labels":false,"title":null,"tickSize":2}},"y":{"field":"v","type":"quantitative","scale":{"domain":[-0.002,0.017],"nice":false,"zero":false},"axis":{"values":[-0.002,0,0.002,0.004,0.006,0.008,0.01,0.012,0.014,0.016],"format":".3f","title":"d V/d D (cm³/g/nm)","tickSize":4,"labelPadding":2,"titlePadding":2}},"stroke":{"datum":"moist shale","type":"nominal","scale":{"domain":["dry shale","moist shale"],"range":["#f03c3c","#333333"]},"legend":{"orient":"none","legendX":19,"legendY":13,"title":null,"symbolType":"M-2.3,0H-0.5M0.5,0H2.3M0.5,0A0.5,0.5,0,1,1,-0.5,0A0.5,0.5,0,1,1,0.5,0","symbolSize":100,"symbolFillColor":"white","symbolStrokeWidth":1,"labelFontSize":11,"labelOffset":7,"rowPadding":0,"padding":0}}}},
{"data":{"name":"e_dry"},"mark":{"type":"line","strokeWidth":1,"point":{"filled":false,"fill":"white","size":26,"strokeWidth":1}},"encoding":{"x":{"field":"d","type":"quantitative","axis":null},"y":{"field":"v","type":"quantitative","axis":{"orient":"left","values":[-0.001,0.001,0.003,0.005,0.007,0.009,0.011,0.013,0.015],"labels":false,"title":null,"tickSize":2}},"stroke":{"datum":"dry shale","type":"nominal"}}}
]}
]
}
